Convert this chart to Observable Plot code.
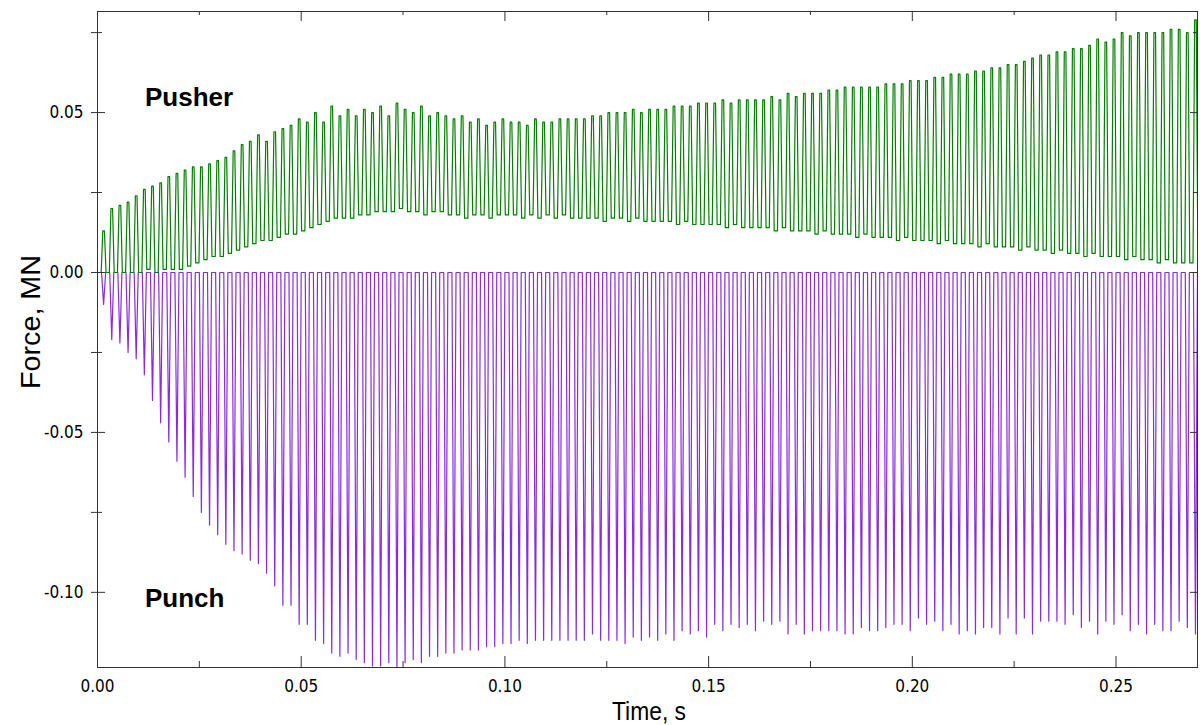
<!DOCTYPE html>
<html><head><meta charset="utf-8">
<script src="https://cdn.jsdelivr.net/npm/d3@7"></script>
<script src="https://cdn.jsdelivr.net/npm/@observablehq/plot@0.6"></script>
<style>
html,body{margin:0;padding:0;background:#fff;}
#chart{width:1200px;height:725px;}
</style></head><body><div id="chart"></div>
<script>
// Cycle timing (one press stroke every ~0.002 s)
const period = 0.002;
const firstCycle = 0.0015;

// Per-cycle force extremes, in kN (1 kN = 0.001 MN)
const pusherPeakKN = [13,20,21,22,24,26,27,28,30,31,32,33,33,34,35,36,38,40,41,43,41,44,45,46,48,47,
  50,47,52,49,51,49,51,50,52,49,53,51,50,52,49,50,49,48,49,47,48,46,47,48,
  47,47,46,48,47,47,48,48,48,48,49,49,50,50,50,51,50,51,51,51,52,52,52,53,53,53,54,53,54,54,54,54,
  55,54,56,55,56,56,56,57,57,58,58,58,58,58,59,59,59,60,60,60,61,61,62,62,62,63,
  63,64,64,65,65,66,67,68,68,69,69,70,70,71,73,72,73,75,74,75,75,75,75,76,76,75,79];
const pusherTroughKN = [0,0,0,0,0,1,0,1,1,1,
  2,3,4,5,5,6,7,8,9,10,
  10,11,12,12,13,14,15,16,17,17,
  17,18,18,19,19,19,20,19,19,18,
  19,19,18,18,17,18,18,17,18,18,
  18,17,18,17,18,17,18,17,17,17,
  17,16,17,17,16,17,16,16,16,16,
  15,16,15,15,15,15,14,15,14,14,
  14,14,13,14,13,13,13,12,13,12,
  12,12,11,12,11,11,11,10,11,10,
  10,10,9,10,9,9,9,8,9,8,
  8,8,7,8,7,7,6,7,6,6,
  5,6,5,5,5,4,5,4,4,3,
  4,3,3,3,3];
const punchTroughKN = [-10,-21,-22,-25,-27,-32,-40,-47,-53,-59,-64,-70,-75,-79,-82,-85,-87,-88,-90,-91,-94,-98,-104,-104,-110,-110,
  -115,-116,-119,-120,-119,-121,-122,-123,-123,-122,-124,-122,-121,-122,-120,-120,-119,-119,-118,-118,-118,-117,-117,-116,-116,-115,-116,-115,-115,-115,-115,-115,
  -115,-115,-113,-115,-115,-115,-116,-114,-115,-114,-115,-113,-115,-112,-113,-112,-114,-110,-112,-110,
  -111,-110,-112,-109,-110,-109,-113,-110,-113,-112,-112,-112,-112,-113,-113,-111,-112,-112,-111,-110,
  -110,-112,-108,-110,-109,-112,-110,-113,-112,-113,-111,-111,
  -113,-108,-113,-108,-113,-109,-109,-109,-110,-107,-111,-109,-113,-109,-110,-107,-112,-110,-113,-110,-112,-112,-109,-111,-113];

const xTicks = [0, 0.05, 0.10, 0.15, 0.20, 0.25];
const xMinor = [0.025, 0.075, 0.125, 0.175, 0.225];
const yTicks = [-0.10, -0.05, 0.00, 0.05];
const yMinor = [-0.075, -0.025, 0.025, 0.075];

// Build the waveforms from the per-cycle extremes
const pusher = [{t: 0, f: 0}];
pusherPeakKN.forEach((p, k) => {
  const t = firstCycle + k * period;
  const prev = k === 0 ? 0 : pusherTroughKN[k - 1];
  pusher.push({t: t - 0.3 * period, f: prev / 1000});
  pusher.push({t: t - 0.1 * period, f: p / 1000});
  pusher.push({t: t + 0.1 * period, f: p / 1000});
  pusher.push({t: t + 0.3 * period, f: pusherTroughKN[k] / 1000});
});
const punch = [{t: 0, f: 0}];
punchTroughKN.forEach((v, k) => {
  const t = firstCycle + k * period;
  punch.push({t: t - 0.25 * period, f: 0});
  punch.push({t: t, f: v / 1000});
  punch.push({t: t + 0.25 * period, f: 0});
});

const W = 1200, H = 725, mL = 97, mR = 3, mT = 11, mB = 58;
const pW = W - mL - mR, pH = H - mT - mB;
const axisColor = "#333";
const fmt = d => d.toFixed(2);
const tickFont = "'DejaVu Sans Condensed','DejaVu Sans',sans-serif";

const svg = Plot.plot({
  width: W, height: H,
  marginLeft: mL, marginRight: mR, marginTop: mT, marginBottom: mB,
  x: {domain: [0, 0.27]},
  y: {domain: [-0.1235, 0.0816]},
  style: {fontFamily: tickFont, fontSize: "17px", color: "#000", background: "#fff"},
  marks: [
    Plot.line(punch, {x: "t", y: "f", stroke: "#8a2be2", strokeWidth: 1.2, clip: true}),
    Plot.line(pusher, {x: "t", y: "f", stroke: "#008000", strokeWidth: 1.2, clip: true}),
    Plot.frame({stroke: axisColor}),
    // inward ticks: bottom, top, left, right
    Plot.tickX(xTicks, {x: d => d, insetTop: pH - 11, stroke: axisColor}),
    Plot.tickX(xMinor, {x: d => d, insetTop: pH - 6, stroke: axisColor}),
    Plot.tickX(xTicks, {x: d => d, insetBottom: pH - 10, stroke: axisColor}),
    Plot.tickX(xMinor, {x: d => d, insetBottom: pH - 4, stroke: axisColor}),
    Plot.tickY(yTicks, {y: d => d, insetRight: pW - 8, stroke: axisColor}),
    Plot.tickY(yMinor, {y: d => d, insetRight: pW - 5, stroke: axisColor}),
    Plot.tickY(yTicks, {y: d => d, insetLeft: pW - 7, stroke: axisColor}),
    Plot.tickY(yMinor, {y: d => d, insetLeft: pW - 4, stroke: axisColor}),
    Plot.axisX({ticks: xTicks, tickSize: 0, tickPadding: 12, tickFormat: fmt, label: null, fontSize: 17}),
    Plot.axisY({ticks: yTicks, tickSize: 6, tickPadding: 8, tickFormat: fmt, label: null, stroke: axisColor, fontSize: 17}),
    Plot.axisY({ticks: yMinor, tickSize: 6, tickFormat: () => "", label: null, stroke: axisColor})
  ]
});

const s = d3.select(svg);
s.append("text").text("Force, MN")
  .attr("transform", "translate(40,322) rotate(-90)")
  .attr("text-anchor", "middle")
  .attr("font-family", "'Liberation Sans Narrow','Liberation Sans',Arial,sans-serif")
  .attr("font-size", 28)
  .attr("textLength", 134).attr("lengthAdjust", "spacingAndGlyphs")
  .attr("fill", "#000");
s.append("text").text("Time, s")
  .attr("x", 649).attr("y", 720)
  .attr("text-anchor", "middle")
  .attr("font-family", "'Liberation Sans Narrow','Liberation Sans',Arial,sans-serif")
  .attr("font-size", 26)
  .attr("textLength", 74).attr("lengthAdjust", "spacingAndGlyphs")
  .attr("fill", "#000");
s.append("text").text("Pusher")
  .attr("x", 145).attr("y", 106)
  .attr("text-anchor", "start")
  .attr("font-family", "'Liberation Sans',Arial,sans-serif")
  .attr("font-weight", "bold").attr("font-size", 26).attr("fill", "#000");
s.append("text").text("Punch")
  .attr("x", 145).attr("y", 607)
  .attr("text-anchor", "start")
  .attr("font-family", "'Liberation Sans',Arial,sans-serif")
  .attr("font-weight", "bold").attr("font-size", 26).attr("fill", "#000");

document.getElementById("chart").appendChild(svg);
</script>
</body></html>
